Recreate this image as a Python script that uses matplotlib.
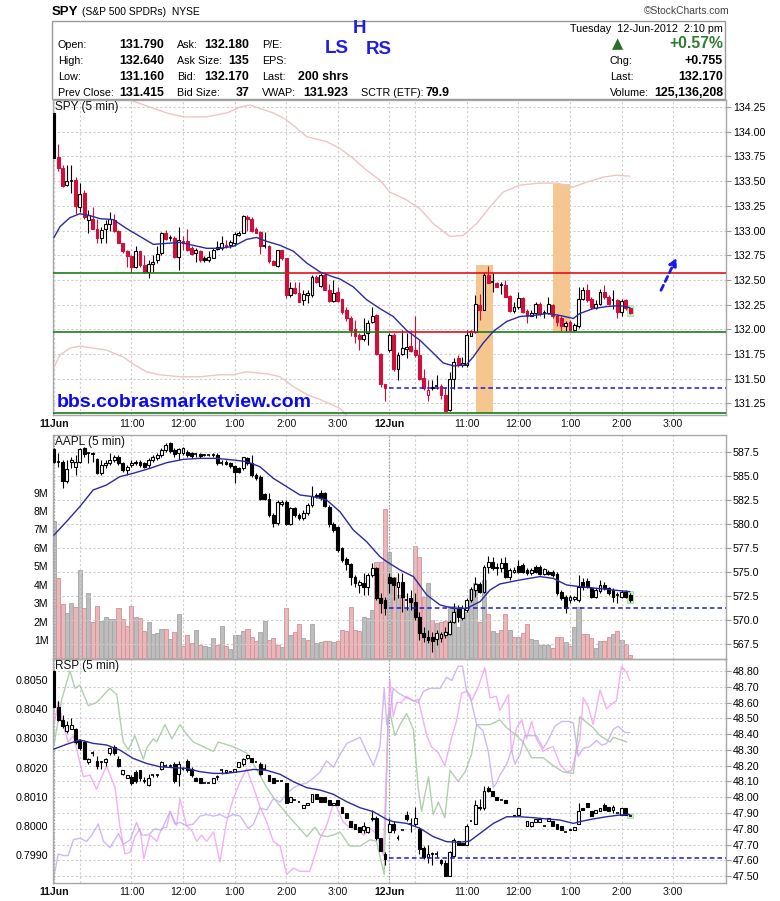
import numpy as np
import matplotlib
matplotlib.use('Agg')
import matplotlib.pyplot as plt
from matplotlib.patches import Rectangle, FancyArrowPatch
from matplotlib.ticker import FormatStrFormatter
from matplotlib import font_manager as fm

nan = float('nan')

# ---------------- time axis (5-minute bars, 11 Jun 9:30 = bar 0) ----------------
hour_bars = [0, 6, 18, 30, 42, 54, 66, 78, 84, 96, 108, 120, 132, 144]
time_labels = ['11Jun', '', '11:00', '12:00', '1:00', '2:00', '3:00',
               '12Jun', '', '11:00', '12:00', '1:00', '2:00', '3:00']
day_labels = ['11Jun', '12Jun']
day_start_bars = [0, 78]

# ---------------- SPY 5-min ----------------
spy_prev_close = 131.415
spy_open = [134.19, 133.74, 133.63, 133.46, 133.50, 133.51, 133.24, 133.38, 133.11, 133.12,
 133.02, 132.92, 133.02, 133.07, 133.11, 133.00, 132.87, 132.79, 132.74, 132.63,
 132.79, 132.65, 132.58, 132.66, 132.70, 132.77, 132.98, 132.92, 132.92, 132.73,
 132.89, 132.89, 132.82, 132.77, 132.79, 132.72, 132.70, 132.72, 132.81, 132.82,
 132.85, 132.85, 132.87, 132.95, 132.98, 133.14, 133.12, 133.02, 132.99, 132.84,
 132.84, 132.69, 132.64, 132.80, 132.72, 132.35, 132.42, 132.37, 132.30, 132.35,
 132.35, 132.53, 132.44, 132.55, 132.40, 132.29, 132.38, 132.31, 132.20, 132.11,
 132.00, 131.94, 131.90, 131.96, 132.07, 132.15, 131.75, 131.45, 131.79, 131.94,
 131.60, 131.75, 131.80, 131.83, 131.79, 131.74, 131.51, 131.34, 131.41, 131.43,
 131.43, 131.34, 131.18, 131.50, 131.71, 131.64, 131.64, 131.93, 131.97, 132.25,
 132.20, 132.55, 132.48, 132.47, 132.45, 132.45, 132.34, 132.19, 132.23, 132.32,
 132.19, 132.14, 132.17, 132.26, 132.17, 132.17, 132.25, 132.14, 132.11, 132.03,
 132.07, 131.99, 132.03, 132.31, 132.40, 132.31, 132.22, 132.26, 132.38, 132.33,
 132.30, 132.30, 132.18, 132.30, 132.22]
spy_high = [134.19, 133.88, 133.66, 133.66, 133.66, 133.54, 133.48, 133.41, 133.21, 133.24,
 133.12, 133.04, 133.11, 133.19, 133.17, 133.01, 132.87, 132.80, 132.75, 132.84,
 132.79, 132.75, 132.70, 132.75, 132.84, 132.99, 133.01, 132.95, 132.94, 133.04,
 132.94, 133.02, 132.84, 132.82, 132.80, 132.74, 132.79, 132.82, 132.89, 132.94,
 132.90, 132.90, 132.99, 133.00, 133.16, 133.16, 133.14, 133.04, 133.00, 132.99,
 132.85, 132.70, 132.80, 132.80, 132.72, 132.48, 132.48, 132.48, 132.40, 132.40,
 132.55, 132.55, 132.57, 132.57, 132.46, 132.50, 132.43, 132.31, 132.23, 132.13,
 132.09, 131.96, 132.11, 132.09, 132.23, 132.16, 131.76, 131.45, 131.96, 131.96,
 131.77, 131.99, 131.96, 131.99, 132.13, 131.89, 131.60, 131.49, 131.49, 131.54,
 131.45, 131.42, 131.57, 131.71, 131.74, 131.72, 131.99, 131.99, 132.35, 132.36,
 132.58, 132.64, 132.57, 132.48, 132.48, 132.50, 132.35, 132.28, 132.38, 132.33,
 132.21, 132.20, 132.28, 132.28, 132.20, 132.33, 132.26, 132.16, 132.13, 132.08,
 132.09, 132.06, 132.43, 132.43, 132.46, 132.33, 132.30, 132.41, 132.45, 132.35,
 132.40, 132.31, 132.31, 132.31, 132.22]
spy_low = [133.73, 133.60, 133.44, 133.45, 133.38, 133.17, 133.19, 133.12, 132.97, 133.02,
 132.87, 132.87, 132.87, 133.00, 132.99, 132.87, 132.77, 132.63, 132.57, 132.62,
 132.63, 132.58, 132.52, 132.58, 132.67, 132.75, 132.90, 132.89, 132.72, 132.60,
 132.80, 132.79, 132.75, 132.68, 132.68, 132.68, 132.68, 132.72, 132.80, 132.80,
 132.82, 132.82, 132.84, 132.94, 132.97, 133.00, 132.99, 132.97, 132.76, 132.82,
 132.67, 132.65, 132.63, 132.70, 132.32, 132.33, 132.36, 132.28, 132.25, 132.27,
 132.33, 132.47, 132.43, 132.40, 132.28, 132.28, 132.28, 132.16, 132.08, 131.93,
 131.86, 131.79, 131.88, 131.84, 132.06, 131.74, 131.42, 131.27, 131.77, 131.58,
 131.49, 131.74, 131.71, 131.77, 131.72, 131.49, 131.39, 131.27, 131.39, 131.40,
 131.29, 131.17, 131.17, 131.40, 131.62, 131.62, 131.62, 131.93, 131.96, 132.09,
 132.20, 132.47, 132.38, 132.43, 132.36, 132.33, 132.18, 132.17, 132.21, 132.17,
 132.06, 132.14, 132.11, 132.14, 132.11, 132.16, 132.11, 132.03, 131.98, 131.98,
 131.98, 131.98, 132.01, 132.30, 132.28, 132.21, 132.21, 132.25, 132.31, 132.25,
 132.21, 132.11, 132.14, 132.20, 132.16]
spy_close = [133.73, 133.63, 133.45, 133.50, 133.50, 133.25, 133.37, 133.14, 133.16, 133.02,
 132.92, 133.01, 133.07, 133.12, 133.00, 132.87, 132.79, 132.74, 132.63, 132.79,
 132.65, 132.58, 132.66, 132.68, 132.76, 132.98, 132.91, 132.92, 132.73, 132.90,
 132.87, 132.80, 132.76, 132.80, 132.70, 132.70, 132.73, 132.80, 132.83, 132.87,
 132.84, 132.88, 132.96, 132.98, 133.15, 133.12, 133.00, 132.98, 132.84, 132.84,
 132.69, 132.65, 132.80, 132.72, 132.35, 132.42, 132.37, 132.28, 132.36, 132.37,
 132.53, 132.48, 132.55, 132.40, 132.29, 132.37, 132.29, 132.18, 132.11, 131.99,
 131.93, 131.90, 131.94, 132.06, 132.14, 131.75, 131.45, 131.41, 131.94, 131.60,
 131.74, 131.81, 131.82, 131.78, 131.74, 131.50, 131.41, 131.39, 131.42, 131.43,
 131.34, 131.17, 131.50, 131.67, 131.64, 131.66, 131.94, 131.98, 132.26, 132.20,
 132.55, 132.47, 132.48, 132.43, 132.45, 132.33, 132.19, 132.23, 132.32, 132.18,
 132.14, 132.17, 132.26, 132.16, 132.17, 132.26, 132.13, 132.07, 132.03, 132.06,
 131.99, 132.04, 132.31, 132.40, 132.30, 132.23, 132.26, 132.38, 132.33, 132.26,
 132.30, 132.18, 132.29, 132.22, 132.17]

spy_ma_x = [0, 1.4, 3.7, 6.0, 8.4, 10.7, 13.8, 16.9, 20.0, 23.1, 26.2, 29.3, 32.4, 35.5, 38.6,
            41.7, 44.8, 47.1, 49.5, 52.6, 55.7, 58.8, 61.9, 65.0, 66.5, 69.6, 72.7, 75.8, 78.9,
            82.0, 85.1, 88.2, 90.5, 92.9, 95.9, 97.5, 99.8, 102.2, 105.3, 108.4, 111.5, 114.6,
            117.7, 120.8, 122.3, 125.4, 128.5, 131.6, 133.9]
spy_ma_y = [132.93, 133.04, 133.13, 133.17, 133.15, 133.12, 133.11, 133.02, 132.94, 132.86,
            132.87, 132.88, 132.85, 132.82, 132.82, 132.84, 132.91, 132.93, 132.89, 132.85,
            132.79, 132.67, 132.58, 132.53, 132.51, 132.43, 132.30, 132.21, 132.13, 131.99,
            131.89, 131.76, 131.66, 131.63, 131.64, 131.72, 131.86, 131.98, 132.08, 132.13,
            132.14, 132.16, 132.14, 132.11, 132.16, 132.21, 132.23, 132.24, 132.22]
spy_bb_up_x = [12, 17.7, 22.3, 26.2, 30.1, 35.5, 40.2, 43.3, 45.6, 51.0, 54.1, 58.8, 63.4, 66.5,
               69.6, 72.7, 75.8, 78.1, 82.0, 85.1, 88.2, 92.1, 95.2, 98.3, 101.4, 104.5, 108.4,
               113.0, 116.9, 120.8, 123.9, 127.7, 130.8, 133.9]
spy_bb_up_y = [134.50, 134.32, 134.25, 134.19, 134.15, 134.15, 134.19, 134.25, 134.27, 134.19,
               134.12, 133.95, 133.90, 133.83, 133.73, 133.61, 133.51, 133.39, 133.31, 133.22,
               133.07, 132.94, 132.95, 133.07, 133.24, 133.39, 133.46, 133.48, 133.48, 133.44,
               133.49, 133.54, 133.56, 133.55]
spy_bb_lo_x = [0, 1.4, 3.7, 6.0, 9.1, 12.2, 16.1, 18.4, 21.5, 24.6, 29.3, 33.9, 38.6, 41.7,
               44.8, 49.5, 52.6, 55.7, 58.8, 61.9, 65.0, 66.5, 68.8, 71.1]
spy_bb_lo_y = [131.62, 131.74, 131.81, 131.83, 131.81, 131.79, 131.72, 131.65, 131.57, 131.54,
               131.52, 131.52, 131.54, 131.54, 131.57, 131.55, 131.52, 131.42, 131.34, 131.29,
               131.23, 131.20, 131.10, 130.98]
spy_yticks = [131.25, 131.50, 131.75, 132.00, 132.25, 132.50, 132.75, 133.00, 133.25,
              133.50, 133.75, 134.00, 134.25]

# annotation levels drawn on the SPY panel
lvl_top, lvl_mid, lvl_bot, lvl_dash = 132.57, 131.97, 131.15, 131.41
lvl_top_red_from = 53.7
lvl_mid_red_span = (78.0, 98.4)
lvl_dash_from = 78.0
hl_boxes_x = [(98.1, 102.1), (116.0, 120.0)]
hl_boxes_y = [(131.15, 132.65), (131.97, 133.47)]
arrow_x = (140.9, 145.1)
arrow_y = (132.37, 132.75)

# ---------------- AAPL 5-min ----------------
aapl_open = [587.81, 586.50, 586.53, 584.54, 586.50, 586.00, 586.53, 587.92, 587.40, 587.29,
 586.77, 585.31, 586.20, 586.35, 586.70, 587.05, 586.42, 585.66, 586.18, 586.35,
 586.53, 586.35, 586.18, 586.70, 586.87, 587.22, 587.74, 588.51, 587.74, 587.40,
 587.46, 587.57, 587.46, 587.29, 587.29, 587.22, 587.22, 587.22, 587.22, 586.42,
 586.53, 586.42, 586.07, 585.83, 585.83, 586.87, 586.42, 585.13, 584.96, 583.15,
 582.60, 580.96, 580.09, 582.11, 582.35, 580.02, 581.66, 580.96, 580.61, 581.13,
 582.00, 582.94, 583.29, 583.22, 581.76, 580.02, 579.67, 577.48, 576.33, 575.85,
 574.52, 573.66, 573.90, 573.48, 574.70, 575.40, 572.27, 572.09, 574.53, 574.35,
 573.48, 574.00, 572.10, 572.27, 571.92, 570.35, 568.61, 568.27, 568.27, 567.99,
 568.13, 568.44, 568.54, 569.83, 571.22, 570.18, 571.05, 572.09, 573.13, 573.76,
 572.96, 575.57, 576.09, 575.40, 575.40, 575.92, 574.53, 575.05, 575.64, 575.75,
 575.22, 574.87, 575.57, 575.57, 574.80, 575.05, 575.05, 574.80, 572.96, 572.44,
 572.09, 572.16, 572.09, 574.00, 574.11, 573.31, 572.44, 573.07, 573.66, 573.31,
 573.13, 572.61, 572.44, 572.96, 572.61]
aapl_high = [587.92, 587.40, 586.70, 586.70, 587.05, 587.22, 587.92, 588.09, 587.57, 587.57,
 586.87, 586.70, 586.70, 587.40, 587.22, 587.22, 586.53, 586.18, 586.70, 586.70,
 586.70, 586.53, 586.87, 587.22, 587.40, 587.92, 588.44, 588.61, 587.92, 587.92,
 588.09, 587.74, 587.57, 587.40, 587.40, 587.35, 587.35, 587.40, 587.40, 586.70,
 586.70, 586.53, 586.18, 586.00, 587.05, 587.05, 587.22, 585.31, 585.13, 583.22,
 583.22, 581.13, 582.53, 582.53, 582.53, 581.83, 581.83, 581.13, 581.50, 582.18,
 583.99, 583.22, 583.57, 583.40, 582.00, 580.26, 579.81, 577.66, 576.61, 575.99,
 574.70, 574.18, 574.87, 574.87, 575.92, 575.57, 572.79, 572.44, 574.87, 574.53,
 574.87, 574.87, 572.79, 573.13, 572.79, 570.87, 569.31, 568.96, 568.79, 568.96,
 568.79, 569.31, 570.00, 571.74, 571.57, 571.57, 572.27, 573.48, 574.53, 574.00,
 575.75, 576.68, 576.61, 576.00, 576.44, 576.61, 575.40, 575.57, 576.26, 575.92,
 575.40, 575.40, 575.75, 575.74, 575.40, 575.20, 575.20, 575.05, 573.13, 572.61,
 572.61, 572.50, 574.70, 574.35, 574.35, 573.48, 573.31, 574.18, 574.00, 573.48,
 573.31, 572.96, 573.13, 573.13, 572.79]
aapl_low = [586.35, 586.00, 583.74, 584.26, 585.83, 585.13, 586.35, 587.05, 586.35, 586.53,
 585.24, 585.13, 585.83, 586.18, 586.53, 586.18, 585.48, 585.13, 586.00, 586.18,
 586.00, 585.83, 585.83, 586.53, 586.70, 587.05, 587.57, 587.40, 587.05, 586.70,
 587.22, 587.05, 586.87, 587.05, 586.87, 587.10, 587.10, 587.05, 586.18, 586.18,
 586.18, 585.83, 584.26, 585.31, 585.66, 586.18, 584.96, 584.61, 582.53, 582.53,
 580.79, 579.74, 579.92, 581.90, 579.92, 579.92, 580.79, 580.44, 580.40, 580.96,
 581.83, 582.70, 582.53, 581.76, 579.74, 579.22, 577.13, 576.09, 575.22, 573.66,
 573.48, 572.79, 572.61, 572.61, 574.53, 572.09, 570.70, 570.52, 572.79, 572.09,
 572.27, 570.87, 571.05, 571.05, 570.00, 567.92, 567.75, 567.57, 566.70, 567.40,
 567.75, 568.13, 568.44, 569.66, 569.83, 570.00, 570.87, 571.92, 572.44, 572.79,
 572.79, 574.87, 575.22, 574.70, 575.05, 574.35, 574.18, 574.87, 574.87, 574.87,
 574.70, 574.70, 574.87, 574.70, 574.70, 574.70, 574.53, 572.61, 572.09, 570.77,
 571.74, 572.00, 571.92, 573.13, 573.30, 572.27, 572.27, 572.79, 573.13, 572.61,
 571.92, 571.74, 572.27, 572.27, 571.92]
aapl_close = [586.53, 586.50, 584.54, 585.72, 586.70, 586.53, 587.81, 587.29, 587.40, 587.40,
 585.31, 586.18, 586.35, 586.70, 587.05, 586.35, 585.66, 586.00, 586.42, 586.53,
 586.18, 586.00, 586.70, 587.05, 587.22, 587.74, 588.26, 587.67, 587.33, 587.81,
 587.92, 587.22, 587.12, 587.29, 587.12, 587.22, 587.22, 587.22, 586.35, 586.42,
 586.28, 586.07, 585.48, 585.48, 586.98, 586.42, 585.13, 584.79, 582.60, 582.60,
 580.96, 580.09, 582.35, 582.35, 580.02, 581.66, 580.96, 580.61, 581.13, 582.00,
 582.94, 583.00, 582.70, 581.90, 580.02, 579.40, 577.31, 576.26, 575.85, 574.52,
 573.83, 574.00, 573.48, 574.70, 575.40, 572.27, 571.74, 571.22, 573.83, 573.66,
 574.00, 572.44, 572.10, 571.92, 570.35, 568.61, 568.27, 567.92, 567.84, 568.69,
 568.57, 568.79, 569.83, 570.87, 570.35, 571.22, 572.09, 573.20, 573.76, 572.96,
 575.57, 576.09, 575.40, 575.57, 575.92, 574.53, 575.22, 575.22, 575.05, 575.05,
 574.87, 575.22, 575.05, 574.80, 575.29, 574.80, 574.70, 572.79, 572.27, 571.22,
 572.44, 572.37, 573.48, 573.48, 573.48, 572.37, 573.13, 573.66, 573.31, 572.79,
 572.44, 572.61, 572.96, 572.44, 572.09]
aapl_volume_m = [7.46, 4.34, 2.95, 2.44, 2.99, 2.77, 4.78, 2.71, 3.53, 1.95,
 2.82, 2.01, 2.23, 2.15, 2.12, 2.71, 2.12, 1.76, 2.84, 2.26,
 2.21, 1.48, 1.95, 1.32, 1.36, 1.57, 1.57, 1.05, 1.43, 2.41,
 0.67, 1.25, 0.81, 1.52, 0.72, 0.67, 0.60, 1.09, 0.72, 1.76,
 0.65, 0.51, 1.25, 1.25, 1.48, 1.57, 1.18, 0.96, 1.45, 2.01,
 1.00, 1.09, 0.72, 0.60, 2.71, 1.27, 1.43, 1.86, 1.09, 1.00,
 1.86, 0.81, 0.90, 0.94, 0.94, 0.90, 0.96, 1.54, 1.50, 2.77,
 1.54, 1.48, 2.22, 2.17, 2.62, 5.25, 5.25, 8.09, 5.79, 4.43,
 3.44, 3.26, 2.71, 3.26, 6.10, 5.48, 3.35, 4.10, 2.07, 1.90,
 1.99, 2.05, 2.84, 2.84, 1.70, 2.17, 2.53, 3.74, 4.07, 1.99,
 4.28, 2.40, 1.48, 1.35, 1.53, 2.40, 1.53, 1.18, 1.14, 1.35,
 1.86, 1.05, 0.98, 0.72, 0.72, 0.72, 0.54, 1.14, 1.14, 0.90,
 0.67, 1.72, 2.77, 1.32, 1.32, 1.09, 0.54, 0.96, 0.96, 1.14,
 1.32, 1.50, 1.00, 0.78, 0.16]
aapl_volume_dir = ("udduududud" "duuuuddddu" "dduuuududu" "ddduduuudu" "duuuuddduu"
                   "dddududdud" "uuuddudddd" "dduuudddud" "uduudddudu" "dduuuuuuud"
                   "uduuddudud" "duuuuudddu" "duuddduudd" "ududd")
aapl_ma_x = [0, 2.9, 6.0, 9.1, 12.2, 15.3, 18.4, 22.3, 26.2, 30.1, 33.9, 37.8, 41.7, 44.8, 47.9,
             51.0, 54.1, 57.2, 60.3, 63.4, 66.5, 69.6, 72.7, 75.8, 77.4, 80.5, 83.6, 86.7, 89.8,
             92.9, 96.0, 99.1, 101.4, 103.7, 108.4, 113.0, 116.1, 119.2, 122.3, 126.2, 130.1, 133.9]
aapl_ma_y = [578.87, 580.27, 581.83, 583.57, 584.09, 584.96, 585.31, 585.83, 586.42, 586.77,
             586.87, 586.87, 586.70, 586.53, 586.00, 584.79, 583.92, 583.05, 582.87, 582.53,
             581.31, 579.40, 578.18, 576.61, 576.09, 575.22, 574.53, 572.61, 571.57, 571.22,
             571.22, 571.92, 573.13, 573.76, 574.18, 574.53, 574.35, 573.66, 573.48, 573.31,
             573.13, 572.96]
aapl_dash_level = 571.22
aapl_yticks = [567.5, 570.0, 572.5, 575.0, 577.5, 580.0, 582.5, 585.0, 587.5]
vol_ticks_m = [1, 2, 3, 4, 5, 6, 7, 8, 9]

# ---------------- RSP 5-min (right-axis units) ----------------
rsp_open = [48.80, 48.57, 48.49, 48.42, 48.43, 48.43, 48.36, 48.35, 48.22, 48.28,
 48.23, 48.22, 48.22, 48.28, 48.32, 48.24, 48.15, 48.12, 48.13, 48.16,
 48.17, 48.10, 48.08, 48.14, 48.14, 48.18, 48.20, 48.20, 48.21, 48.15,
 48.18, 48.23, 48.18, 48.12, 48.12, 48.09, 48.09, 48.09, 48.13, 48.17,
 48.16, 48.16, 48.16, 48.19, 48.21, 48.25, 48.25, 48.22, 48.21, 48.18,
 48.14, 48.12, 48.10, 48.10, 48.09, 47.97, 47.98, 47.97, 47.93, 47.95,
 47.97, 48.02, 48.00, 48.00, 47.98, 47.95, 47.98, 47.94, 47.90, 47.85,
 47.83, 47.81, 47.79, 47.78, 47.87, 47.87, 47.74, 47.64, 47.78, 47.83,
 47.74, 47.79, 47.89, 47.83, 47.83, 47.80, 47.68, 47.62, 47.64, 47.64,
 47.60, 47.58, 47.50, 47.63, 47.72, 47.71, 47.70, 47.85, 47.83, 47.94,
 47.93, 48.06, 48.04, 48.00, 47.98, 47.98, nan, 47.89, 47.89, nan,
 47.82, 47.82, 47.84, 47.84, 47.82, 47.85, 47.85, 47.83, 47.82, 47.78,
 47.79, 47.79, 47.83, 47.93, 47.96, 47.91, 47.90, 47.91, 47.95, 47.94,
 47.92, 47.90, 47.89, 47.93, 47.88]
rsp_high = [48.80, 48.61, 48.52, 48.48, 48.50, 48.44, 48.37, 48.36, 48.25, 48.29,
 48.26, 48.23, 48.25, 48.32, 48.33, 48.26, 48.17, 48.14, 48.14, 48.17,
 48.17, 48.13, 48.15, 48.15, 48.15, 48.23, 48.21, 48.21, 48.22, 48.23,
 48.19, 48.24, 48.19, 48.13, 48.12, 48.09, 48.09, 48.12, 48.14, 48.18,
 48.17, 48.16, 48.18, 48.22, 48.25, 48.27, 48.25, 48.22, 48.22, 48.21,
 48.14, 48.12, 48.10, 48.10, 48.09, 48.00, 47.98, 47.97, 47.95, 47.96,
 48.02, 48.02, 48.00, 48.00, 47.98, 47.96, 47.98, 47.94, 47.90, 47.85,
 47.83, 47.81, 47.84, 47.81, 47.92, 47.88, 47.74, 47.65, 47.87, 47.85,
 47.76, 47.79, 47.91, 47.87, 47.94, 47.81, 47.69, 47.70, 47.65, 47.66,
 47.61, 47.60, 47.66, 47.74, 47.72, 47.71, 47.83, 47.85, 47.98, 47.99,
 48.07, 48.07, 48.04, 48.00, 47.98, 47.98, nan, 47.89, 47.93, nan,
 47.85, 47.84, 47.86, 47.86, 47.82, 47.87, 47.85, 47.83, 47.82, 47.78,
 47.80, 47.81, 47.96, 47.93, 47.96, 47.91, 47.92, 47.93, 47.96, 47.94,
 47.95, 47.90, 47.93, 47.93, 47.88]
rsp_low = [48.57, 48.48, 48.44, 48.41, 48.43, 48.34, 48.30, 48.24, 48.21, 48.26,
 48.18, 48.18, 48.20, 48.27, 48.27, 48.19, 48.14, 48.12, 48.08, 48.09,
 48.10, 48.09, 48.07, 48.13, 48.13, 48.17, 48.20, 48.20, 48.09, 48.07,
 48.17, 48.16, 48.13, 48.10, 48.09, 48.09, 48.09, 48.09, 48.11, 48.15,
 48.16, 48.16, 48.16, 48.19, 48.20, 48.24, 48.22, 48.22, 48.14, 48.17,
 48.10, 48.09, 48.10, 48.10, 47.96, 47.97, 47.98, 47.97, 47.93, 47.95,
 47.97, 47.99, 47.97, 47.97, 47.95, 47.95, 47.95, 47.90, 47.87, 47.81,
 47.80, 47.78, 47.77, 47.77, 47.85, 47.73, 47.66, 47.57, 47.78, 47.77,
 47.73, 47.79, 47.85, 47.78, 47.82, 47.64, 47.61, 47.58, 47.57, 47.62,
 47.57, 47.50, 47.50, 47.62, 47.70, 47.70, 47.70, 47.85, 47.83, 47.92,
 47.92, 48.03, 48.01, 47.98, 47.98, 47.96, nan, 47.88, 47.89, nan,
 47.82, 47.81, 47.84, 47.84, 47.82, 47.85, 47.82, 47.80, 47.79, 47.78,
 47.79, 47.79, 47.83, 47.92, 47.94, 47.88, 47.90, 47.91, 47.92, 47.91,
 47.90, 47.90, 47.89, 47.89, 47.88]
rsp_close = [48.57, 48.49, 48.45, 48.46, 48.46, 48.35, 48.31, 48.24, 48.24, 48.28,
 48.20, 48.22, 48.24, 48.31, 48.28, 48.20, 48.17, 48.14, 48.09, 48.10,
 48.12, 48.10, 48.12, 48.14, 48.14, 48.22, 48.20, 48.20, 48.10, 48.21,
 48.18, 48.17, 48.14, 48.10, 48.09, 48.09, 48.09, 48.12, 48.13, 48.17,
 48.17, 48.16, 48.18, 48.22, 48.24, 48.27, 48.22, 48.22, 48.15, 48.18,
 48.10, 48.09, 48.10, 48.10, 47.96, 48.00, 47.98, 47.97, 47.95, 47.96,
 48.02, 47.99, 47.97, 47.97, 47.95, 47.96, 47.95, 47.90, 47.87, 47.81,
 47.80, 47.78, 47.82, 47.81, 47.86, 47.74, 47.66, 47.61, 47.83, 47.79,
 47.74, 47.79, 47.86, 47.83, 47.87, 47.67, 47.62, 47.64, 47.64, 47.64,
 47.58, 47.50, 47.65, 47.73, 47.70, 47.70, 47.82, 47.85, 47.95, 47.93,
 48.04, 48.04, 48.01, 47.98, 47.98, 47.96, nan, 47.88, 47.93, nan,
 47.85, 47.84, 47.86, 47.86, 47.82, 47.87, 47.82, 47.80, 47.79, 47.78,
 47.80, 47.81, 47.91, 47.92, 47.94, 47.88, 47.92, 47.93, 47.92, 47.91,
 47.94, 47.90, 47.93, 47.89, 47.88]
rsp_ma_x = [0, 2.9, 6.0, 9.1, 12.2, 15.3, 18.4, 21.5, 24.6, 27.7, 30.8, 33.9, 37.0, 40.1, 43.2,
            46.4, 49.5, 52.6, 55.7, 58.8, 61.9, 65.0, 68.1, 71.2, 74.3, 77.4, 78.9, 82.0, 85.1,
            88.2, 91.3, 94.4, 96.7, 99.1, 102.2, 105.3, 108.4, 111.5, 114.6, 117.7, 120.8,
            122.3, 125.4, 128.5, 131.6, 133.9]
rsp_ma_y = [48.305, 48.335, 48.363, 48.341, 48.331, 48.299, 48.246, 48.214, 48.193, 48.187,
            48.183, 48.162, 48.151, 48.151, 48.162, 48.176, 48.170, 48.145, 48.098, 48.060,
            48.045, 48.018, 47.971, 47.933, 47.908, 47.859, 47.845, 47.834, 47.803, 47.750,
            47.718, 47.714, 47.722, 47.771, 47.834, 47.876, 47.876, 47.870, 47.862, 47.855,
            47.834, 47.845, 47.862, 47.876, 47.887, 47.891]
rsp_dash_level = 47.616
green_x = [0, 1.8, 3.7, 4.9, 6.0, 8.0, 9.9, 13.0, 14.6, 16.1, 17.3, 18.8, 20.8, 21.5, 23.1,
           23.9, 25.8, 27.4, 29.3, 30.8, 32.4, 37.1, 38.2, 41.7, 44.8, 47.5, 49.5, 51.8, 54.9,
           57.2, 58.8, 60.7, 61.9, 63.4, 65.0, 66.5, 68.8, 71.2, 73.5, 75.0, 76.8, 77.7, 78.1,
           79.3, 80.5, 82.0, 83.6, 84.7, 85.5, 87.1, 88.2, 89.4, 90.9, 92.1, 94.0, 95.6, 97.1,
           98.3, 101.4, 103.7, 105.3, 107.6, 109.1, 111.1, 113.8, 116.1, 118.4, 120.8, 122.3,
           125.4, 127.0, 129.3, 130.1, 133.2]
green_y = [48.33, 48.62, 48.80, 48.69, 48.71, 48.58, 48.60, 48.69, 48.65, 48.35, 48.30, 48.39,
           48.24, 48.31, 48.37, 48.35, 48.46, 48.37, 48.46, 48.40, 48.35, 48.29, 48.35, 48.32,
           48.28, 48.16, 48.06, 47.97, 47.87, 47.80, 47.75, 47.81, 47.76, 47.75, 47.76, 47.78,
           47.69, 47.69, 47.73, 47.72, 47.51, 48.52, 48.54, 48.39, 48.46, 48.53, 48.43, 48.06,
           47.91, 48.13, 47.89, 47.97, 47.87, 48.17, 48.10, 48.16, 48.27, 48.46, 48.46, 48.49,
           48.44, 48.39, 48.35, 48.25, 48.25, 48.20, 48.16, 48.15, 48.51, 48.44, 48.39, 48.35,
           48.38, 48.35]
lav_x = [0, 1.0, 2.2, 3.3, 4.5, 6.0, 7.6, 8.8, 10.3, 11.5, 13.0, 15.0, 16.1, 17.7, 19.2, 20.4,
         21.9, 23.5, 25.0, 27.0, 28.1, 29.3, 30.8, 32.4, 33.9, 35.5, 37.1, 38.6, 40.1, 41.7, 43.3,
         45.2, 46.4, 47.9, 49.5, 51.0, 52.6, 54.1, 55.7, 57.2, 58.8, 60.3, 61.9, 63.4, 65.0, 66.5,
         68.1, 69.6, 71.2, 72.7, 74.3, 75.8, 76.8, 77.4, 78.1, 78.9, 80.1, 82.0, 84.7, 85.9, 87.4,
         89.8, 91.3, 92.5, 94.0, 95.0, 96.0, 96.7, 98.3, 99.8, 101.0, 102.2, 102.9, 103.7, 105.3,
         106.4, 107.2, 108.4, 109.5, 110.7, 112.2, 113.8, 114.9, 116.5, 118.1, 120.0, 120.8,
         121.9, 123.1, 124.6, 126.2, 127.4, 128.5, 130.1, 131.2, 132.8, 133.9]
lav_y = [47.50, 47.64, 47.63, 47.63, 47.73, 47.74, 47.72, 47.76, 47.83, 47.72, 47.68, 47.77,
         47.70, 47.73, 47.84, 47.76, 47.76, 47.80, 47.79, 47.91, 47.83, 47.84, 47.82, 47.83,
         47.88, 47.89, 47.88, 47.89, 47.87, 47.89, 47.88, 47.80, 47.83, 47.93, 47.92, 47.99,
         47.97, 48.02, 48.06, 48.08, 48.09, 48.12, 48.16, 48.23, 48.19, 48.27, 48.34, 48.36,
         48.38, 48.29, 48.20, 48.32, 48.69, 48.46, 48.52, 48.69, 48.66, 48.63, 48.60, 48.67,
         48.69, 48.69, 48.76, 48.74, 48.83, 48.83, 48.67, 48.65, 48.46, 48.42, 48.29, 48.06,
         48.09, 48.14, 48.21, 48.30, 48.21, 48.27, 48.39, 48.39, 48.39, 48.31, 48.36, 48.45,
         48.48, 48.48, 48.47, 48.26, 48.31, 48.32, 48.36, 48.33, 48.34, 48.43, 48.45, 48.41,
         48.41]
pink_x = [0, 1.0, 2.2, 3.3, 4.5, 6.8, 8.4, 9.9, 12.2, 14.2, 15.3, 16.5, 17.7, 18.8, 20.0, 20.9,
          22.3, 23.9, 25.0, 26.2, 27.0, 28.5, 29.3, 30.8, 32.0, 33.2, 34.3, 35.5, 37.1, 38.6,
          40.1, 41.7, 43.3, 44.8, 46.4, 47.9, 49.5, 51.0, 52.6, 54.1, 55.7, 57.2, 59.5, 61.9,
          63.4, 65.0, 65.7, 67.3, 68.8, 70.4, 72.0, 73.5, 75.0, 76.6, 78.1, 78.9, 79.7, 80.8,
          82.0, 83.6, 84.7, 86.7, 87.8, 89.4, 90.9, 92.5, 93.6, 94.8, 96.0, 97.1, 98.7, 100.2,
          101.4, 102.9, 103.7, 105.7, 106.4, 107.6, 108.8, 109.9, 111.1, 112.2, 113.8, 114.9,
          116.1, 117.7, 119.2, 120.4, 122.3, 123.1, 124.3, 125.4, 127.0, 128.5, 130.1, 130.8,
          132.0, 133.2, 133.9]
pink_y = [48.46, 48.61, 48.45, 48.35, 48.39, 48.13, 48.14, 48.05, 48.20, 48.06, 47.82, 47.64,
          47.65, 47.75, 47.80, 47.61, 47.76, 47.72, 47.80, 47.81, 47.91, 47.82, 47.99, 47.82,
          47.79, 47.72, 47.76, 47.72, 47.78, 47.59, 47.84, 47.99, 48.10, 48.18, 48.06, 47.94,
          47.84, 47.72, 47.69, 47.51, 47.55, 47.53, 47.53, 47.74, 47.82, 47.96, 47.94, 47.84,
          47.81, 47.80, 47.76, 47.80, 47.77, 47.63, 48.75, 48.51, 48.60, 48.60, 48.64, 48.61,
          48.62, 48.39, 48.32, 48.28, 48.20, 48.38, 48.48, 48.66, 48.67, 48.61, 48.70, 48.82,
          48.63, 48.64, 48.55, 48.65, 48.29, 48.44, 48.49, 48.37, 48.48, 48.37, 48.29, 48.31,
          48.32, 48.21, 48.16, 48.17, 48.37, 48.63, 48.57, 48.46, 48.68, 48.56, 48.60, 48.61,
          48.83, 48.79, 48.74]
rsp_yticks = [47.5, 47.6, 47.7, 47.8, 47.9, 48.0, 48.1, 48.2, 48.3, 48.4, 48.5, 48.6, 48.7, 48.8]
rsp_left_ticks = [0.7990, 0.8000, 0.8010, 0.8020, 0.8030, 0.8040, 0.8050]
rsp_left_ref = (47.633, 0.7990, 48.743, 0.8050)   # matching right/left axis values

# ---------------- header quote ----------------
quote_rows_left = [('Open:', '131.790'), ('High:', '132.640'), ('Low:', '131.160'), ('Prev Close:', '131.415')]
quote_rows_mid = [('Ask:', '132.180'), ('Ask Size:', '135'), ('Bid:', '132.170'), ('Bid Size:', '37')]
quote_rows_right = [('Chg:', '+0.755'), ('Last:', '132.170'), ('Volume:', '125,136,208')]

# ====================================================================
def has_font(name):
    try:
        fm.findfont(fm.FontProperties(family=name), fallback_to_default=False)
        return True
    except Exception:
        return False

NARROW_OK = has_font('Liberation Sans Narrow')
plt.rcParams['font.family'] = ['Liberation Sans', 'DejaVu Sans']

W, H = 780, 901
fig = plt.figure(figsize=(W / 100, H / 100), dpi=100)
fig.patch.set_facecolor('white')

def fx(px):
    return px / W

def fy(py):
    return 1 - py / H

L, R = 52.5, 726.0
def add_panel(top, bottom):
    return fig.add_axes([fx(L), fy(bottom), (R - L) / W, (bottom - top) / H])

ax_spy = add_panel(100, 415)
ax_aapl = add_panel(435, 659)
ax_vol = ax_aapl.twinx()
ax_rsp = add_panel(659, 883)

XL = (-0.35, 156.3)
GRID = dict(color='#cdcdcd', linestyle=(0, (2, 2)), linewidth=0.8)

def style_axes(ax, show_x):
    ax.set_xlim(*XL)
    ax.set_xticks(hour_bars)
    if show_x:
        ax.set_xticklabels(time_labels, fontsize=7.6, color='#111')
        for t in ax.get_xticklabels():
            if t.get_text() in day_labels:
                t.set_fontweight('bold')
    else:
        ax.set_xticklabels([])
    ax.tick_params(axis='x', length=0, pad=3)
    ax.grid(True, **GRID)
    ax.set_axisbelow(True)
    for s in ax.spines.values():
        s.set_color('#a8a8a8')
        s.set_linewidth(1)

def candles(ax, o, h, l, c, prev=None, red=False, width=0.66):
    o, h, l, c = map(lambda a: np.asarray(a, float), (o, h, l, c))
    for i in range(len(o)):
        if np.isnan(o[i]):
            continue
        col = 'black'
        if red:
            pc = prev if i == 0 else c[i - 1]
            if c[i] < pc:
                col = '#d0103a'
        ax.vlines(i, l[i], h[i], color=col, linewidth=0.8, zorder=3)
        lo, hi = min(o[i], c[i]), max(o[i], c[i])
        if hi - lo < 1e-9:
            ax.hlines(c[i], i - width / 2, i + width / 2, color=col, linewidth=1.2, zorder=4)
        else:
            face = 'white' if c[i] >= o[i] else col
            ax.add_patch(Rectangle((i - width / 2, lo), width, hi - lo, facecolor=face,
                                   edgecolor=col, linewidth=0.8, zorder=4))
    # light-green marker behind the latest bar
    k = len(o) - 1
    pad = (ax.get_ylim()[1] - ax.get_ylim()[0]) * 0.008
    ax.add_patch(Rectangle((k - 0.65, l[k] - pad), 1.3, h[k] - l[k] + 2 * pad,
                           facecolor='#c9f2c2', edgecolor='#a9e0a0', lw=0.6, zorder=2.5))

def day_separators(ax):
    for b in day_start_bars:
        ax.axvline(b, color='#9a9a9a', lw=0.9, linestyle=(0, (1, 1.5)), zorder=1)

# ---------------- SPY panel ----------------
style_axes(ax_spy, True)
ax_spy.set_ylim(131.133, 134.321)
ax_spy.yaxis.tick_right()
ax_spy.set_yticks(spy_yticks)
ax_spy.yaxis.set_major_formatter(FormatStrFormatter('%.2f'))
ax_spy.tick_params(axis='y', length=3.5, pad=1.5, labelsize=7.7, color='#999')

for (x0, x1), (y0, y1) in zip(hl_boxes_x, hl_boxes_y):
    ax_spy.add_patch(Rectangle((x0, y0), x1 - x0, y1 - y0, facecolor='#f6c690',
                               edgecolor='none', zorder=2))
ax_spy.plot(spy_bb_up_x, spy_bb_up_y, color='#f0c4c4', lw=1.0, zorder=2)
ax_spy.plot(spy_bb_lo_x, spy_bb_lo_y, color='#f0c4c4', lw=1.0, zorder=2)
candles(ax_spy, spy_open, spy_high, spy_low, spy_close, prev=spy_prev_close, red=True)
ax_spy.plot(spy_ma_x, spy_ma_y, color='#2b2ba0', lw=1.0, zorder=6)

GREEN, RED = '#1b7b1b', '#e8101a'
ax_spy.hlines(lvl_top, XL[0], lvl_top_red_from, color=GREEN, lw=1.2, zorder=5)
ax_spy.hlines(lvl_top, lvl_top_red_from, XL[1], color=RED, lw=1.2, zorder=5)
ax_spy.hlines(lvl_mid, XL[0], lvl_mid_red_span[0], color=GREEN, lw=1.2, zorder=5)
ax_spy.hlines(lvl_mid, lvl_mid_red_span[0], lvl_mid_red_span[1], color=RED, lw=1.2, zorder=5)
ax_spy.hlines(lvl_mid, lvl_mid_red_span[1], XL[1], color=GREEN, lw=1.2, zorder=5)
ax_spy.hlines(lvl_bot, XL[0], XL[1], color=GREEN, lw=1.2, zorder=5)
ax_spy.hlines(lvl_dash, lvl_dash_from, XL[1], color='#1a1ae0', lw=1.1,
              linestyles=(0, (3, 2)), zorder=5)
ax_spy.add_patch(FancyArrowPatch((arrow_x[0], arrow_y[0]), (arrow_x[1], arrow_y[1]),
                                 arrowstyle='-|>', mutation_scale=11, lw=2.0,
                                 linestyle=(0, (2, 1.5)), color='#1a1ae6', zorder=7))
fig.text(fx(57), fy(402), 'bbs.cobrasmarketview.com', color='#0a0af0', fontsize=14,
         fontweight='bold', va='center', ha='left')
fig.text(fx(55), fy(107), 'SPY (5 min)', fontsize=8.5, va='center', ha='left', color='#111')

# ---------------- AAPL panel ----------------
style_axes(ax_aapl, False)
ax_aapl.set_zorder(2)
ax_vol.set_zorder(1)
ax_aapl.patch.set_visible(False)
ax_aapl.set_ylim(565.93, 589.31)
ax_aapl.yaxis.tick_right()
ax_aapl.set_yticks(aapl_yticks)
ax_aapl.yaxis.set_major_formatter(FormatStrFormatter('%.1f'))
ax_aapl.tick_params(axis='y', length=3.5, pad=1.5, labelsize=7.7, color='#999',
                    left=False, labelleft=False, right=True, labelright=True)

ax_vol.set_xlim(*XL)
ax_vol.set_ylim(-0.036, 12.13)
ax_vol.yaxis.tick_left()
ax_vol.set_yticks(vol_ticks_m)
ax_vol.set_yticklabels([f'{v}M' for v in vol_ticks_m])
ax_vol.tick_params(axis='y', length=0, pad=3, labelsize=7.5, left=True, labelleft=True,
                   right=False, labelright=False)
for s in ax_vol.spines.values():
    s.set_visible(False)
vcols = ['#e9b6ba' if d == 'd' else '#bdbdbd' for d in aapl_volume_dir]
ecols = ['#d68f96' if d == 'd' else '#a6a6a6' for d in aapl_volume_dir]
ax_vol.bar(np.arange(len(aapl_volume_m)), aapl_volume_m, width=0.95, color=vcols,
           edgecolor=ecols, linewidth=0.6)

day_separators(ax_aapl)
candles(ax_aapl, aapl_open, aapl_high, aapl_low, aapl_close)
ax_aapl.plot(aapl_ma_x, aapl_ma_y, color='#2b2ba0', lw=1.0, zorder=6)
ax_aapl.hlines(aapl_dash_level, 78, XL[1], color='#1a1ae0', lw=1.1,
               linestyles=(0, (3, 2)), zorder=5)
fig.text(fx(55), fy(442), 'AAPL (5 min)', fontsize=8.5, va='center', ha='left', color='#111')

# ---------------- RSP panel ----------------
style_axes(ax_rsp, True)
ax_rsp.set_ylim(47.456, 48.876)
ax_rsp.yaxis.tick_right()
ax_rsp.set_yticks(rsp_yticks)
ax_rsp.yaxis.set_major_formatter(FormatStrFormatter('%.2f'))
ax_rsp.tick_params(axis='y', length=3.5, pad=1.5, labelsize=7.7, color='#999')

r0, l0, r1, l1 = rsp_left_ref
slope = (l1 - l0) / (r1 - r0)
sec = ax_rsp.secondary_yaxis('left', functions=(lambda r: l0 + (r - r0) * slope,
                                                 lambda v: r0 + (v - l0) / slope))
sec.set_yticks(rsp_left_ticks)
sec.yaxis.set_major_formatter(FormatStrFormatter('%.4f'))
sec.tick_params(axis='y', length=0, pad=3, labelsize=7.7)
sec.spines['left'].set_visible(False)

day_separators(ax_rsp)
ax_rsp.plot(green_x, green_y, color='#9cc49a', lw=1.0, alpha=0.8, zorder=2)
ax_rsp.plot(pink_x, pink_y, color='#f29cf0', lw=1.0, alpha=0.8, zorder=2)
ax_rsp.plot(lav_x, lav_y, color='#c4a8ee', lw=1.0, alpha=0.8, zorder=2)
candles(ax_rsp, rsp_open, rsp_high, rsp_low, rsp_close)
ax_rsp.plot(rsp_ma_x, rsp_ma_y, color='#2b2ba0', lw=1.0, zorder=6)
ax_rsp.hlines(rsp_dash_level, 78, XL[1], color='#1a1ae0', lw=1.1,
              linestyles=(0, (3, 2)), zorder=5)
fig.text(fx(55), fy(666), 'RSP (5 min)', fontsize=8.5, va='center', ha='left', color='#111')

# ---------------- header ----------------
def narrow_text(x, y, s, size, **kw):
    if NARROW_OK:
        fig.text(fx(x), fy(y), s, fontsize=size, family=['Liberation Sans Narrow', 'DejaVu Sans'], **kw)
    else:
        fig.text(fx(x), fy(y), s, fontsize=size * 0.84, **kw)

def bold_text(x, y, s, size, **kw):
    fig.text(fx(x), fy(y), s, fontsize=size, fontweight='bold', **kw)

fig.add_artist(Rectangle((fx(52), fy(99)), (725 - 52) / W, (99 - 21) / H,
                         transform=fig.transFigure, fill=False, edgecolor='#9a9a9a', lw=1))
bold_text(52, 15, 'SPY', 9.5, va='baseline', ha='left')
narrow_text(82, 15, '(S&P 500 SPDRs)  NYSE', 8.8, va='baseline', ha='left')
narrow_text(730, 14, '©StockCharts.com', 8.8, va='baseline', ha='right', color='#444')

row_base = [48.3, 64.3, 80.3, 96.3]
for (lab, val), yb in zip(quote_rows_left, row_base):
    narrow_text(58, yb, lab, 9.2, va='baseline', ha='left')
    bold_text(164, yb, val, 8.9, va='baseline', ha='right')
for (lab, val), yb in zip(quote_rows_mid, row_base):
    narrow_text(177, yb, lab, 9.2, va='baseline', ha='left')
    bold_text(249, yb, val, 8.9, va='baseline', ha='right')
for lab, yb in zip(['P/E:', 'EPS:', 'Last:', 'VWAP:'], row_base):
    narrow_text(262, yb, lab, 9.2, va='baseline', ha='left')
bold_text(298, row_base[2], '200 shrs', 8.9, va='baseline', ha='left')
bold_text(348, row_base[3], '131.923', 8.9, va='baseline', ha='right')
narrow_text(361, row_base[3], 'SCTR (ETF):', 9.2, va='baseline', ha='left')
bold_text(426, row_base[3], '79.9', 8.9, va='baseline', ha='left')

narrow_text(723, 32.3, 'Tuesday  12-Jun-2012  2:10 pm', 9.2, va='baseline', ha='right')
fig.text(fx(617.5), fy(43.5), '▲', fontsize=10.5, color='#2f6a2f', ha='center', va='center',
         family=['DejaVu Sans'])
bold_text(723, 48.3, '+0.57%', 11.3, va='baseline', ha='right', color='#2e7b32')
for (lab, val), yb in zip(quote_rows_right, row_base[1:]):
    narrow_text(610, yb, lab, 9.2, va='baseline', ha='left')
    bold_text(723, yb, val, 8.9, va='baseline', ha='right')

BLUE = '#1f1fe0'
bold_text(360, 33.3, 'H', 13.5, va='baseline', ha='center', color=BLUE)
bold_text(336.5, 52.7, 'LS', 13.5, va='baseline', ha='center', color=BLUE)
bold_text(378.5, 54.0, 'RS', 13.5, va='baseline', ha='center', color=BLUE)

fig.savefig('out.png', dpi=100, facecolor='white')
